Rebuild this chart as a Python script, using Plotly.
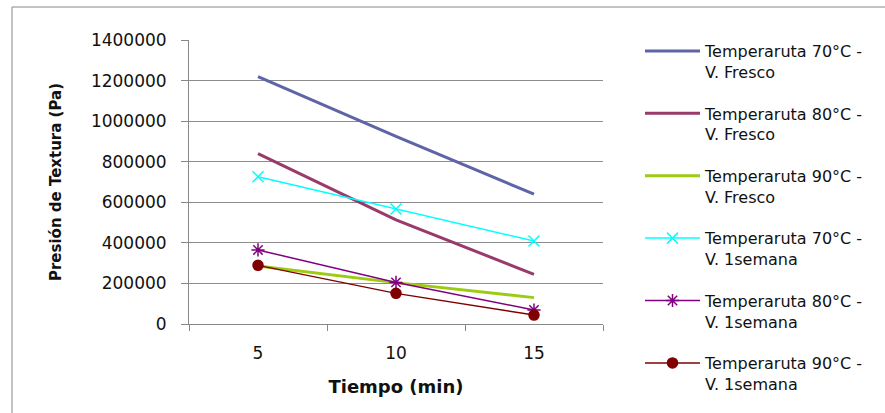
import plotly.graph_objects as go

tiempo = ["5", "10", "15"]
t70_fresco = [1220000, 925000, 640000]
t80_fresco = [840000, 513000, 245000]
t90_fresco = [286000, 204000, 130000]
t70_1sem = [726000, 567000, 409000]
t80_1sem = [365000, 205000, 69000]
t90_1sem = [289000, 151000, 44000]

names = [
    "Temperaruta 70°C -<br>V. Fresco",
    "Temperaruta 80°C -<br>V. Fresco",
    "Temperaruta 90°C -<br>V. Fresco",
    "Temperaruta 70°C -<br>V. 1semana",
    "Temperaruta 80°C -<br>V. 1semana",
    "Temperaruta 90°C -<br>V. 1semana",
]
series = [t70_fresco, t80_fresco, t90_fresco, t70_1sem, t80_1sem, t90_1sem]
colors = ["#5E64A6", "#983B6B", "#9CCB12", "#00FFFF", "#800080", "#800000"]
widths = [3, 3, 3, 1.5, 1.5, 1.5]
symbols = [None, None, None, "x-thin", "asterisk", "circle"]
msizes = [0, 0, 0, 11, 11, 10]

fig = go.Figure()
for i, (nm, ys) in enumerate(zip(names, series)):
    if symbols[i] is None:
        mode = "lines"
        marker = None
    else:
        mode = "lines+markers"
        marker = dict(symbol=symbols[i], size=msizes[i], color=colors[i],
                      line=dict(color=colors[i], width=1.5))
    fig.add_trace(go.Scatter(
        x=tiempo, y=ys, name=nm, mode=mode,
        line=dict(color=colors[i], width=widths[i]),
        marker=marker, legendgroup=f"g{i}",
    ))

W, H = 885, 413
L, R, T, B = 189, 282, 40, 89
pw, ph = W - L - R, H - T - B

def px(x):
    return (x - L) / pw

def py(y):
    return (H - B - y) / ph

fig.update_layout(
    width=W, height=H,
    margin=dict(l=L, r=R, t=T, b=B, autoexpand=False),
    paper_bgcolor="white", plot_bgcolor="white",
    font=dict(family="DejaVu Sans", color="#111111", size=14),
    showlegend=True,
    legend=dict(
        x=640 / W, y=1 - 34 / H, xref="container", yref="container",
        xanchor="left", yanchor="top", maxheight=1,
        font=dict(family="DejaVu Sans", size=16, color="#111111"),
        valign="top", tracegroupgap=17.8, itemwidth=55,
        bgcolor="rgba(0,0,0,0)",
    ),
    xaxis=dict(
        type="category", range=[-0.5, 2.5], automargin=False,
        showline=True, linecolor="#888888", linewidth=1,
        ticks="outside", tickson="boundaries", ticklen=6, tickcolor="#888888",
        showgrid=False, zeroline=False, ticklabelstandoff=14,
        tickfont=dict(size=17, family="DejaVu Sans", color="#111111"),
        title=dict(text="<b>Tiempo (min)</b>", font=dict(size=18, family="DejaVu Sans", color="#111111"), standoff=17),
    ),
    yaxis=dict(
        range=[0, 1400000], dtick=200000, tickformat="d", automargin=False,
        showline=True, linecolor="#888888", linewidth=1,
        ticks="outside", ticklen=7, tickcolor="#888888",
        showgrid=True, gridcolor="#8c8c8c", gridwidth=1,
        zeroline=False, ticklabelstandoff=11,
        tickfont=dict(size=17, family="DejaVu Sans", color="#111111"),
        title=dict(text="<b>Presión de Textura (Pa)</b>", font=dict(size=15, family="DejaVu Sans", color="#111111"), standoff=25),
    ),
    shapes=[dict(
        type="rect", xref="paper", yref="paper",
        x0=px(12), y0=py(430), x1=px(900), y1=py(7),
        line=dict(color="#888888", width=1), layer="below",
    )],
)

fig.write_html("out.html", config={"displayModeBar": False},
               post_script="document.body.style.margin='0';")
